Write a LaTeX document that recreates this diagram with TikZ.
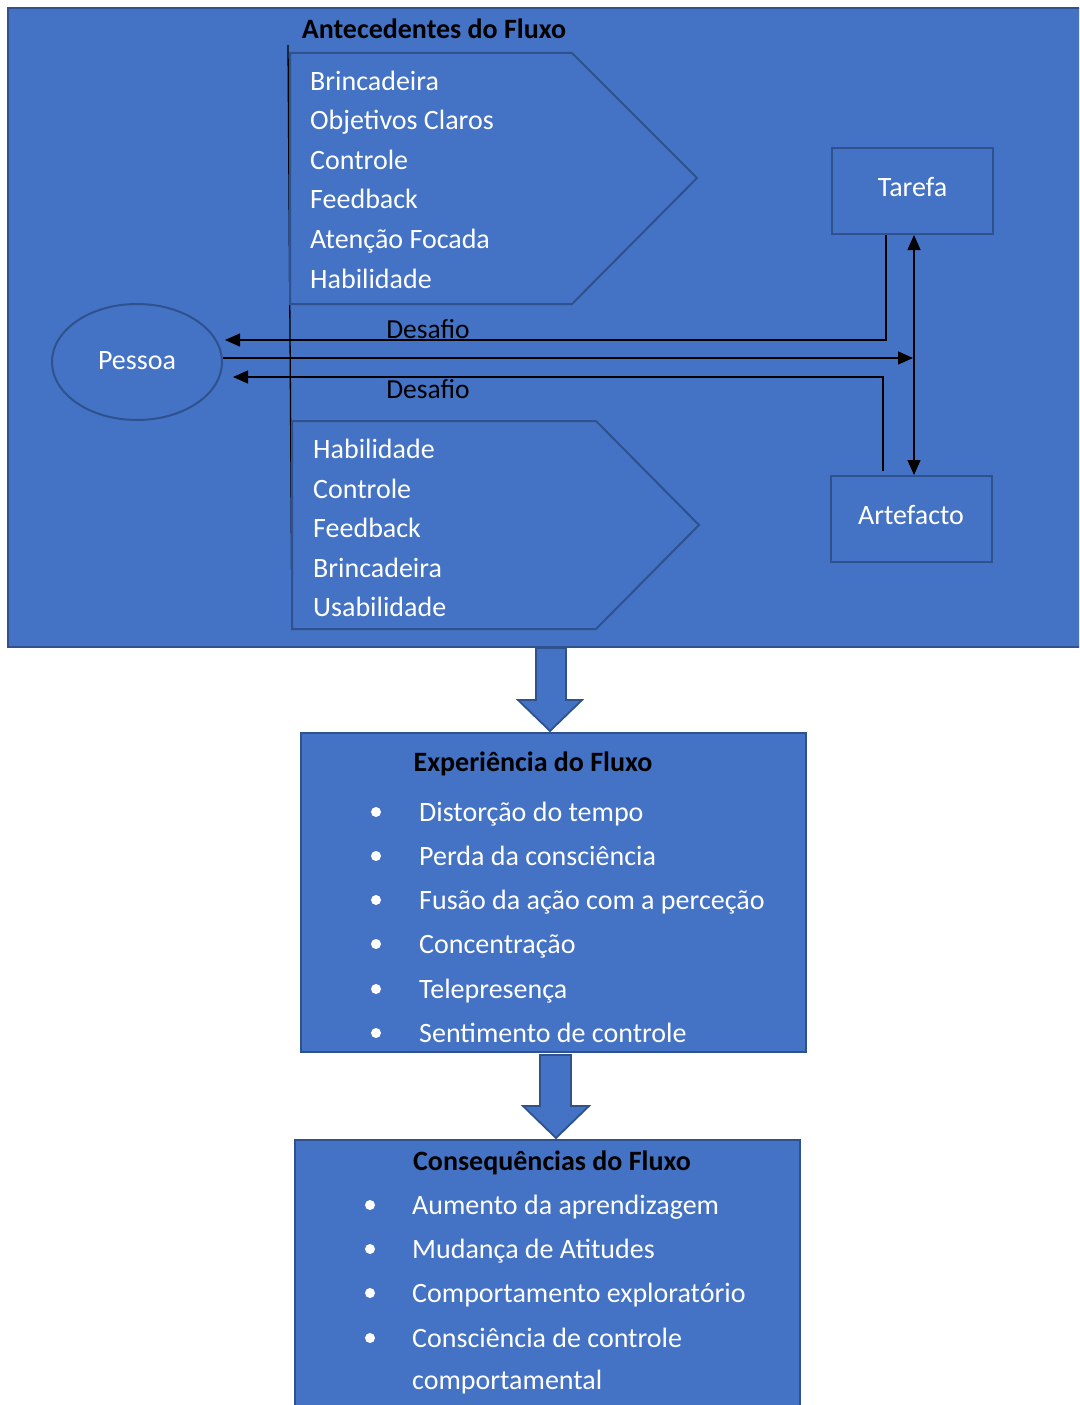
\documentclass[tikz,border=0pt]{standalone}
\usepackage{fontspec}
\setmainfont{Carlito}
\usetikzlibrary{shapes.geometric,arrows.meta}
\definecolor{blu}{HTML}{4472C4}
\definecolor{edge}{HTML}{2F528F}
\tikzset{
  panel/.style={fill=blu,draw=edge,line width=2pt},
  item/.style={anchor=west,text=white,font=\fontsize{28}{30}\selectfont,inner sep=0pt,text height=20pt,text depth=2pt},
  heading/.style={text=black,font=\bfseries\fontsize{28}{30}\selectfont,inner sep=0pt,text height=20pt,text depth=2pt},
  lbl/.style={text=black,font=\fontsize{27.5}{29}\selectfont,inner sep=0pt,text height=20pt,text depth=2pt},
  boxnode/.style={panel,rectangle,minimum width=161pt,minimum height=86pt,text=white,font=\fontsize{28}{30}\selectfont,text height=18pt,text depth=8pt},
  arr/.style={black,line width=1.3pt,-{Triangle[length=15pt,width=13pt]}},
  arrtwo/.style={black,line width=1.3pt,{Triangle[length=15pt,width=13pt]}-{Triangle[length=15pt,width=13pt]}},
  bul/.style={circle,fill=white,inner sep=0pt,minimum size=10pt},
}
\begin{document}
\begin{tikzpicture}[x=1pt,y=-1pt]
\useasboundingbox (0,0) rectangle (1079,1405);
\clip (0,0) rectangle (1079,1405);

% outer panel with the antecedents
\draw[panel] (8,8) rectangle (1090,647);
\node[heading] (anttitle) at (434,30) {Antecedentes do Fluxo};
\draw[black,line width=1.3pt] (288,45) -- (292,620);

% upper pentagon
\draw[panel] (290,53) -- (572,53) -- (697,178) -- (572,304) -- (290,304) -- cycle;
\node[item] (a1) at (310,81)  {Brincadeira};
\node[item] (a2) at (310,120) {Objetivos Claros};
\node[item] (a3) at (310,160) {Controle};
\node[item] (a4) at (310,199) {Feedback};
\node[item] (a5) at (310,239) {Atenção Focada};
\node[item] (a6) at (310,279) {Habilidade};

% lower pentagon
\draw[panel] (292,421) -- (596,421) -- (699,525) -- (596,629) -- (292,629) -- cycle;
\node[item] (b1) at (313,449) {Habilidade};
\node[item] (b2) at (313,489) {Controle};
\node[item] (b3) at (313,528) {Feedback};
\node[item] (b4) at (313,568) {Brincadeira};
\node[item] (b5) at (313,607) {Usabilidade};

% person, task and artefact
\node[ellipse,panel,minimum width=170pt,minimum height=116pt,text=white,font=\fontsize{28}{30}\selectfont,text height=18pt,text depth=4pt] (pessoa) at (137,362) {Pessoa};
\node[boxnode] (tarefa) at (912.5,191) {Tarefa};
\node[boxnode] (artefacto) at (911,519) {Artefacto};

\coordinate (meet) at (913,358);

% connectors
\draw[arr] ([xshift=-26.5pt]tarefa.south) |- ([xshift=2pt,yshift=22pt]pessoa.east);
\draw[arr] ([yshift=4pt]pessoa.east) -- (meet);
\draw[arr] ([xshift=-28pt,yshift=4pt]artefacto.north) |- ([xshift=10pt,yshift=-15pt]pessoa.east);
\draw[arrtwo] ([xshift=1.5pt]tarefa.south) -- ([xshift=3pt]artefacto.north);
\node[lbl] (d1) at (428,329) {Desafio};
\node[lbl] (d2) at (428,389) {Desafio};

% block arrow to the experience box
\draw[panel,line width=1.8pt] (536,648) -- (566,648) -- (566,700) -- (582,700) -- (550,731) -- (518,700) -- (536,700) -- cycle;

% experience box
\draw[panel] (301,733) rectangle (806,1052);
\node[heading] (exptitle) at (533,762) {Experiência do Fluxo};
\foreach \yy/\tx [count=\i] in {812/Distorção do tempo,856/Perda da consciência,900/Fusão da ação com a perceção,944/Concentração,989/Telepresença,1033/Sentimento de controle}{
  \node[bul] (eb\i) at (376,\yy) {};
  \node[item] (e\i) at (419,\yy) {\tx};
}

% block arrow to the consequences box
\draw[panel,line width=1.8pt] (540,1055) -- (571,1055) -- (571,1106) -- (589,1106) -- (556,1138) -- (523,1106) -- (540,1106) -- cycle;

% consequences box
\draw[panel] (295,1140) rectangle (800,1420);
\node[heading] (contitle) at (552,1161) {Consequências do Fluxo};
\foreach \yy/\tx [count=\i] in {1205/Aumento da aprendizagem,1249/Mudança de Atitudes,1293/Comportamento exploratório,1338/Consciência de controle}{
  \node[bul] (cb\i) at (370,\yy) {};
  \node[item] (c\i) at (412,\yy) {\tx};
}
\node[item] (c5) at (412,1380) {comportamental};
\end{tikzpicture}
\end{document}
